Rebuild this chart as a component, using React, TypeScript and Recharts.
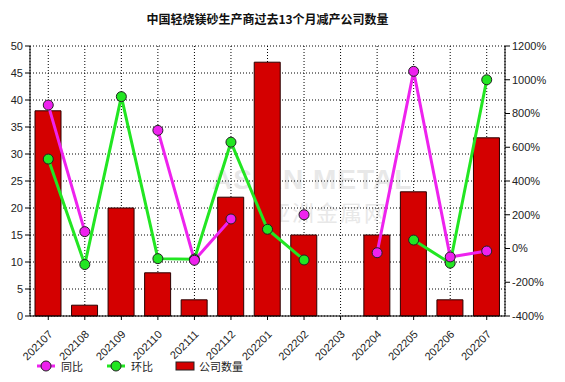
import React from "react"
import {
    Bar,
    CartesianGrid,
    ComposedChart,
    Line,
    XAxis,
    YAxis,
} from "recharts"

const months = [
    "202107", "202108", "202109", "202110", "202111", "202112", "202201",
    "202202", "202203", "202204", "202205", "202206", "202207",
]
// 公司数量
const companyCount = [38, 2, 20, 8, 3, 22, 47, 15, null, 15, 23, 3, 33]
// 同比 (%)
const yoy = [850, 100, null, 700, -70, 175, null, 200, null, -25, 1050, -50, -15]
// 环比 (%)
const mom = [530, -95, 900, -60, -63, 630, 114, -68, null, null, 50, -87, 1000]

const leftTicks = [0, 5, 10, 15, 20, 25, 30, 35, 40, 45, 50]
const rightTicks = [-400, -200, 0, 200, 400, 600, 800, 1000, 1200]

const FONT = '"Liberation Sans", Arial, "Noto Sans CJK SC", sans-serif'
const BAR_RED = "#D40000"
const MAGENTA = "#EE22EE"
const GREEN = "#22E622"

const data = months.map((m, i) => ({
    name: m,
    count: companyCount[i],
    yoy: yoy[i],
    mom: mom[i],
}))

const XTick = (props: any) => {
    const { x, y, payload } = props
    return (
        <g transform={`translate(${x + 5},${y + 13})`}>
            <text
                textAnchor="end"
                transform="rotate(-45)"
                fontSize={11}
                fontFamily={FONT}
                fill="#222"
            >
                {payload.value}
            </text>
        </g>
    )
}

const App = () => {
    return (
        <div
            style={{
                position: "absolute",
                left: 0,
                top: 0,
                width: 565,
                height: 382,
                background: "#fff",
                fontFamily: FONT,
            }}
        >
            {/* watermark */}
            <div
                style={{
                    position: "absolute",
                    left: 212,
                    top: 164,
                    fontSize: 28,
                    fontWeight: "bold",
                    color: "#e8e8e8",
                    letterSpacing: 1,
                }}
            >
                ASIAN METAL
            </div>
            <div
                style={{
                    position: "absolute",
                    left: 268,
                    top: 195,
                    fontSize: 22,
                    color: "#e8e8e8",
                    fontFamily: '"Noto Sans CJK SC", sans-serif',
                    letterSpacing: 2,
                }}
            >
                亚洲金属网
            </div>

            <div
                style={{
                    position: "absolute",
                    left: 0,
                    top: 10,
                    width: 535,
                    textAlign: "center",
                    fontSize: 12,
                    fontWeight: "bold",
                    color: "#111",
                    fontFamily: '"Noto Sans CJK SC", sans-serif',
                }}
            >
                中国轻烧镁砂生产商过去13个月减产公司数量
            </div>

            <div style={{ position: "absolute", left: 0, top: 0 }}>
                <ComposedChart
                    width={565}
                    height={382}
                    data={data}
                    margin={{ top: 46, right: 0, left: 0, bottom: 0 }}
                >
                    <CartesianGrid
                        stroke="#000"
                        strokeDasharray="1 2"
                        yAxisId="left"
                    />
                    <XAxis
                        dataKey="name"
                        height={66}
                        tick={<XTick />}
                        interval={0}
                        stroke="#000"
                        tickSize={4}
                    />
                    <YAxis
                        yAxisId="left"
                        width={30}
                        domain={[0, 50]}
                        ticks={leftTicks}
                        interval={0}
                        stroke="#000"
                        tickSize={5}
                        tick={{ fontSize: 11, fill: "#222", fontFamily: FONT }}
                    />
                    <YAxis
                        yAxisId="right"
                        orientation="right"
                        width={60}
                        domain={[-400, 1200]}
                        ticks={rightTicks}
                        interval={0}
                        stroke="#000"
                        tickSize={5}
                        tickFormatter={(v) => `${v}%`}
                        tick={{ fontSize: 11, fill: "#222", fontFamily: FONT }}
                    />
                    <Bar
                        yAxisId="left"
                        dataKey="count"
                        fill={BAR_RED}
                        stroke="#2a0000"
                        strokeWidth={1}
                        barSize={26}
                        isAnimationActive={false}
                    />
                    <Line
                        yAxisId="right"
                        dataKey="mom"
                        stroke={GREEN}
                        strokeWidth={3}
                        dot={{ r: 5, fill: GREEN, stroke: "#222", strokeWidth: 1 }}
                        isAnimationActive={false}
                    />
                    <Line
                        yAxisId="right"
                        dataKey="yoy"
                        stroke={MAGENTA}
                        strokeWidth={3}
                        dot={{ r: 5, fill: MAGENTA, stroke: "#222", strokeWidth: 1 }}
                        isAnimationActive={false}
                    />
                </ComposedChart>
            </div>

            {/* legend */}
            <div
                style={{
                    position: "absolute",
                    left: 35,
                    top: 358,
                    display: "flex",
                    alignItems: "center",
                    fontSize: 11,
                    color: "#222",
                    fontFamily: '"Noto Sans CJK SC", sans-serif',
                }}
            >
                <svg width={22} height={14}>
                    <line x1={2} y1={7} x2={20} y2={7} stroke={MAGENTA} strokeWidth={3} />
                    <circle cx={11} cy={7} r={5} fill={MAGENTA} stroke="#222" />
                </svg>
                <span style={{ marginLeft: 4, width: 44 }}>同比</span>
                <svg width={22} height={14}>
                    <line x1={2} y1={7} x2={20} y2={7} stroke={GREEN} strokeWidth={3} />
                    <circle cx={11} cy={7} r={5} fill={GREEN} stroke="#222" />
                </svg>
                <span style={{ marginLeft: 4, width: 44 }}>环比</span>
                <svg width={20} height={14}>
                    <rect x={1} y={3} width={18} height={8} fill={BAR_RED} stroke="#222" />
                </svg>
                <span style={{ marginLeft: 4 }}>公司数量</span>
            </div>
        </div>
    )
}

export default App
